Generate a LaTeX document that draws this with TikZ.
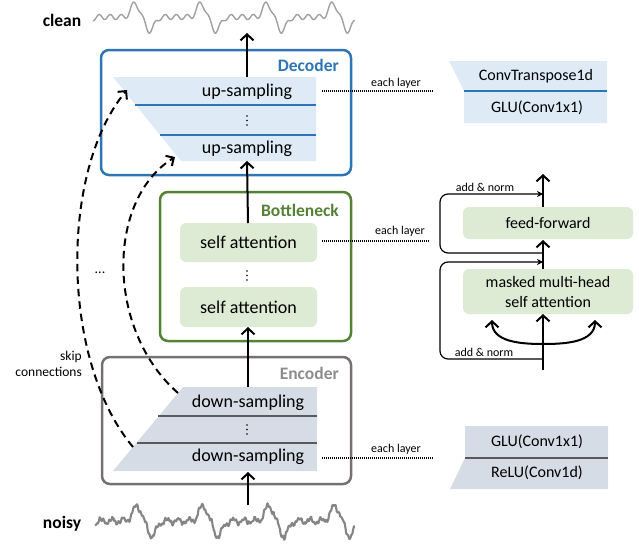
\documentclass[tikz,border=0pt]{standalone}
\usepackage{fontspec}
\setmainfont{Carlito}
\usetikzlibrary{arrows.meta}
\definecolor{decblue}{HTML}{2E75B6}
\definecolor{decfill}{HTML}{DEEBF7}
\definecolor{bngreen}{HTML}{548235}
\definecolor{bnfill}{HTML}{DDEBD5}
\definecolor{encgray}{HTML}{767171}
\definecolor{enclabel}{HTML}{8C8C8C}
\definecolor{encfill}{HTML}{D6DCE5}
\definecolor{encline}{HTML}{595959}
\definecolor{wavegray}{HTML}{A0A0A0}
\definecolor{noisygray}{HTML}{858585}
\begin{document}
\begin{tikzpicture}[x=1pt,y=-1pt,
  declare function={
    wu(\t)=mod(\t+558,66)-33;
    wn(\t)=mod(\t+556,66)-33;
    wc(\t)=14*exp(-(wu(\t)/5.5)*(wu(\t)/5.5)) - 14*exp(-((wu(\t)-15)/6)*((wu(\t)-15)/6)) - 2.5*sin(wu(\t)*32.727);
    wnz(\t)=15*exp(-(wn(\t)/6)*(wn(\t)/6)) - 15*exp(-((wn(\t)-15)/6)*((wn(\t)-15)/6)) - 2.5*sin(wn(\t)*32.727) + 1.2*sin(mod(\t,3.1)*116.13) + 0.8*sin(mod(\t,4.7)*76.6+30);
  },
  box/.style={rounded corners=8pt, line width=2.5pt},
  bigtxt/.style={font=\fontsize{18}{20}\selectfont, inner sep=0pt},
  midtxt/.style={font=\fontsize{16}{20}\selectfont, inner sep=0pt, align=center},
  smalltxt/.style={font=\fontsize{12}{14}\selectfont, inner sep=0pt},
  lbl/.style={font=\bfseries\fontsize{17.5}{20}\selectfont, anchor=east, inner sep=0pt},
  sidelbl/.style={font=\bfseries\fontsize{17.5}{20}\selectfont, inner sep=0pt},
  arr/.style={line width=2pt, -{Straight Barb[length=6pt,width=13pt]}},
  skiparr/.style={line width=2pt, dash pattern=on 7.5pt off 5pt, -{Straight Barb[length=6pt,width=12pt]}},
  resloop/.style={line width=1.2pt, rounded corners=8pt, -{Stealth[length=6pt,width=6pt]}},
  dotline/.style={line width=1.1pt, dash pattern=on 1pt off 1pt},
  att/.style={rounded corners=6pt, fill=bnfill, draw=none},
  vdot/.style={circle, fill=black, inner sep=0pt, minimum size=1.8pt}
]
\useasboundingbox (0,0) rectangle (639,544);

% ---------- waveforms ----------
\node[sidelbl] (clean) at (62,20) {clean};
\node[sidelbl] (noisy) at (62,524) {noisy};
\draw[wavegray, line width=1.4pt, line join=round]
  plot[domain=93:355, samples=500, variable=\t] (\t, {17 - wc(\t)});
\pgfmathsetseed{7}
\draw[noisygray, line width=2.1pt, line join=round]
  plot[domain=95:355, samples=500, variable=\t] (\t, {521 - wnz(\t) + 0.7*rand});

% ---------- decoder ----------
\fill[decfill] (113,77) -- (316,77) -- (316,161) -- (181,161) -- cycle;
\draw[decblue, line width=1.2pt] (135,105) -- (316,105);
\draw[decblue, line width=1.2pt] (160,135) -- (316,135);
\node[bigtxt] (up1) at (247,92) {up-sampling};
\foreach \k/\yy in {1/116,2/120.5,3/125} \node[vdot] (dvd\k) at (247,\yy) {};
\node[bigtxt] (up2) at (247,149) {up-sampling};
\draw[decblue, box] (101,50) rectangle (351,175);
\node[lbl, text=decblue] (declbl) at (339,65) {Decoder};
\coordinate (decTop) at (247,77);
\coordinate (decBot) at (247,161);
\coordinate (cleanIn) at (247,33);

% ---------- bottleneck ----------
\node[att, minimum width=137pt, minimum height=39pt] (sa1) at (248.5,242.5) {};
\node[bigtxt] (sa1t) at (sa1) {self attention};
\foreach \k/\yy in {1/271,2/275.5,3/280} \node[vdot] (bvd\k) at (247,\yy) {};
\node[att, minimum width=137pt, minimum height=40pt] (sa2) at (248.5,307) {};
\node[bigtxt] (sa2t) at (sa2) {self attention};
\draw[bngreen, box] (160,192) rectangle (351,341);
\node[lbl, text=bngreen] (bnlbl) at (339,210) {Bottleneck};
\coordinate (saTop) at (248,223);
\coordinate (saBot) at (248,327);

% ---------- encoder ----------
\fill[encfill] (183,387) -- (317,387) -- (317,471) -- (113,471) -- cycle;
\draw[encline, line width=1.2pt] (158,416) -- (317,416);
\draw[encline, line width=1.2pt] (137,443) -- (317,443);
\node[bigtxt] (dn1) at (248,403) {down-sampling};
\foreach \k/\yy in {1/425,2/429.5,3/434} \node[vdot] (evd\k) at (247,\yy) {};
\node[bigtxt] (dn2) at (248,457) {down-sampling};
\draw[encgray, box] (102,357) rectangle (351,484);
\node[lbl, text=enclabel] (enclbl) at (339,373) {Encoder};
\coordinate (encTop) at (248,387);
\coordinate (encBot) at (248,472);
\coordinate (noisyOut) at (248,505);

% ---------- main arrows ----------
\draw[arr] (decTop) -- (cleanIn);
\draw[arr] (saTop) -- (decBot);
\draw[arr] (encTop) -- (saBot);
\draw[arr] (noisyOut) -- (encBot);

% ---------- skip connections ----------
\coordinate (sk1s) at (133,447);
\coordinate (sk1e) at (127,90);
\coordinate (sk2s) at (178,393);
\coordinate (sk2e) at (175,157);
\draw[skiparr] (sk1s) .. controls (60,360) and (60,170) .. (sk1e);
\draw[skiparr] (sk2s) .. controls (106,330) and (106,200) .. (sk2e);
\node[font=\fontsize{14}{14}\selectfont, inner sep=0pt] (skdots) at (100,273) {...};
\node[font=\fontsize{13.5}{16}\selectfont, inner sep=0pt, align=right, anchor=east] (sklbl) at (82,364) {skip\\connections};

% ---------- each layer ----------
\coordinate (dl1a) at (322,91);  \coordinate (dl1b) at (433,91);
\coordinate (dl2a) at (322,241); \coordinate (dl2b) at (430,241);
\coordinate (dl3a) at (322,458); \coordinate (dl3b) at (433,458);
\draw[dotline] (dl1a) -- (dl1b);
\draw[dotline] (dl2a) -- (dl2b);
\draw[dotline] (dl3a) -- (dl3b);
\node[smalltxt] (el1) at (396,83) {each layer};
\node[smalltxt] (el2) at (400,231) {each layer};
\node[smalltxt] (el3) at (396,449) {each layer};

% ---------- decoder detail ----------
\fill[decfill] (449,61) -- (607,61) -- (607,123) -- (464,123) -- (464,91) -- cycle;
\draw[decblue, line width=1.2pt] (464,91) -- (607,91);
\node[midtxt] (ct) at (536,76) {ConvTranspose1d};
\node[midtxt] (glu1) at (537,108) {GLU(Conv1x1)};

% ---------- encoder detail ----------
\fill[encfill] (465,426) -- (608,426) -- (608,489) -- (450,489) -- (465,458) -- cycle;
\draw[encline, line width=1.2pt] (465,458) -- (608,458);
\node[midtxt] (glu2) at (537,442) {GLU(Conv1x1)};
\node[midtxt] (relu) at (537,473) {ReLU(Conv1d)};

% ---------- bottleneck detail ----------
\node[att, minimum width=170pt, minimum height=32pt] (ff) at (548,223) {};
\node[midtxt] (fft) at (ff) {feed-forward};
\node[att, minimum width=170pt, minimum height=45pt] (mh) at (548,291.5) {};
\node[midtxt, font=\fontsize{16}{20}\selectfont] (mht) at (548,292) {masked multi-head\\self attention};
\coordinate (mainBot) at (543,370);
\coordinate (mhBot) at (543,314);
\coordinate (mhTop) at (543,269);
\coordinate (ffBot) at (543,240);
\coordinate (ffTop) at (543,207);
\coordinate (outTop) at (543,174);
\coordinate (split) at (543,344);
\coordinate (kTip) at (492,320);
\coordinate (vTip) at (595,320);
\draw[arr] (mainBot) -- (mhBot);
\draw[arr] (mhTop) -- (ffBot);
\draw[arr] (ffTop) -- (outTop);
\draw[arr] (split) to[out=180,in=-90] (kTip);
\draw[arr] (split) to[out=0,in=-90] (vTip);
\coordinate (r1s) at (543,359); \coordinate (r1c1) at (440,359);
\coordinate (r1c2) at (440,262); \coordinate (r1e) at (543,262);
\coordinate (r2s) at (543,253); \coordinate (r2c1) at (440,253);
\coordinate (r2c2) at (440,194); \coordinate (r2e) at (543,194);
\draw[resloop] (r1s) -- (r1c1) -- (r1c2) -- (r1e);
\draw[resloop] (r2s) -- (r2c1) -- (r2c2) -- (r2e);
\node[smalltxt] (an1) at (485,187) {add \& norm};
\node[smalltxt] (an2) at (484,352) {add \& norm};
\end{tikzpicture}
\end{document}
